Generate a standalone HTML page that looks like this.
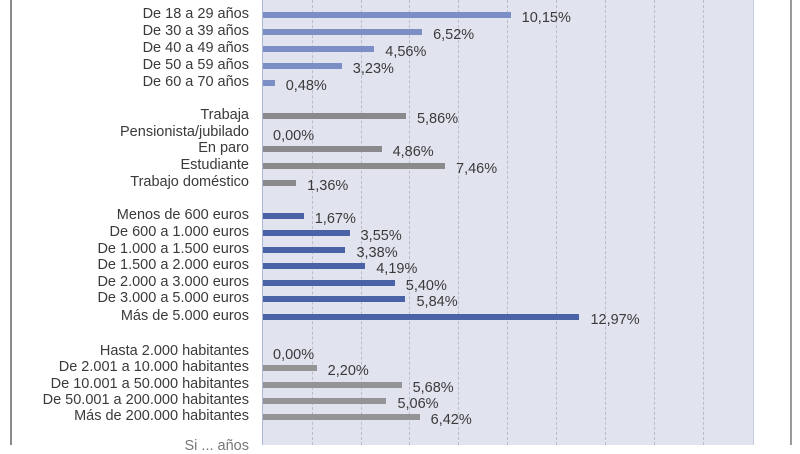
<!DOCTYPE html>
<html><head><meta charset="utf-8"><style>
body{margin:0;width:800px;height:445px;overflow:hidden;background:#fff;font-family:"Liberation Sans",sans-serif;}
.l{position:absolute;right:551px;font-size:14.5px;color:#3a3a3a;white-space:nowrap;line-height:15px;}
.v{position:absolute;font-size:14.5px;color:#3a3a3a;white-space:nowrap;line-height:15px;}
.b{position:absolute;left:263px;height:6px;}
.g{position:absolute;top:0;height:445px;border-left:1px dashed #b9bccb;}
</style></head><body>
<div style="position:absolute;left:10px;top:0;width:2px;height:445px;background:#8a8a8a"></div>
<div style="position:absolute;left:790px;top:0;width:2px;height:445px;background:#9a9a9a"></div>
<div style="position:absolute;left:262px;top:0;width:490px;height:445px;background:#e1e4ef;border-left:1px solid #a9b6d8;border-right:1px solid #c6cce0"></div>
<div class="g" style="left:312px"></div><div class="g" style="left:361px"></div><div class="g" style="left:409px"></div><div class="g" style="left:458px"></div><div class="g" style="left:507px"></div><div class="g" style="left:556px"></div><div class="g" style="left:605px"></div><div class="g" style="left:654px"></div><div class="g" style="left:703px"></div>
<div id="c"></div>
<script>
var rows=[
["De 18 a 29 años",10.15,15,"#7b8fc6"],["De 30 a 39 años",6.52,32,"#7b8fc6"],["De 40 a 49 años",4.56,49,"#7b8fc6"],["De 50 a 59 años",3.23,66,"#7b8fc6"],["De 60 a 70 años",0.48,83,"#7b8fc6"],
["Trabaja",5.86,116,"#8a8a8c"],["Pensionista/jubilado",0,133,"#8a8a8c"],["En paro",4.86,149,"#8a8a8c"],["Estudiante",7.46,166,"#8a8a8c"],["Trabajo doméstico",1.36,183,"#8a8a8c"],
["Menos de 600 euros",1.67,216,"#4a63a6"],["De 600 a 1.000 euros",3.55,233,"#4a63a6"],["De 1.000 a 1.500 euros",3.38,250,"#4a63a6"],["De 1.500 a 2.000 euros",4.19,266,"#4a63a6"],["De 2.000 a 3.000 euros",5.40,283,"#4a63a6"],["De 3.000 a 5.000 euros",5.84,299,"#4a63a6"],["Más de 5.000 euros",12.97,317,"#4a63a6"],
["Hasta 2.000 habitantes",0,352,"#949496"],["De 2.001 a 10.000 habitantes",2.20,368,"#949496"],["De 10.001 a 50.000 habitantes",5.68,385,"#949496"],["De 50.001 a 200.000 habitantes",5.06,401,"#949496"],["Más de 200.000 habitantes",6.42,417,"#949496"]];
var h="";
rows.forEach(function(r){
 var w=r[1]*24.4;
 h+='<div class="l" style="top:'+(r[2]-8)+'px">'+r[0]+'</div>';
 if(w>0)h+='<div class="b" style="top:'+(r[2]-3)+'px;width:'+w+'px;background:'+r[3]+'"></div>';
 h+='<div class="v" style="top:'+(r[2]-4)+'px;left:'+(263+w+(w>0?11:10))+'px">'+r[1].toFixed(2).replace(".",",")+'%</div>';
});
h+='<div class="l" style="top:439px;color:#777">Si ... años</div>';
document.getElementById("c").innerHTML=h;
</script>
</body></html>
